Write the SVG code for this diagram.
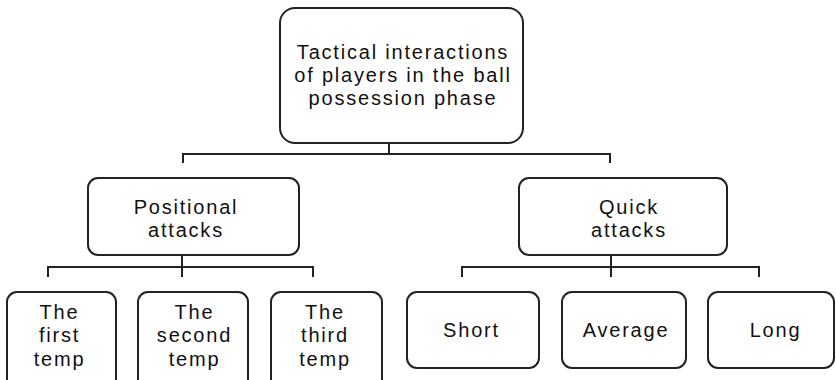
<svg xmlns="http://www.w3.org/2000/svg" width="836" height="380" viewBox="0 0 836 380">
<style>
.box{fill:#fff;stroke:#222;stroke-width:2}
.lbl{font-family:"Liberation Sans",Arial,sans-serif;font-size:20px;letter-spacing:1.8px;fill:#111;text-anchor:middle}
.con{fill:none;stroke:#222;stroke-width:2}
</style>
<rect width="836" height="380" fill="#fff"/>
<g id="connectors">
<path class="con" d="M389 143V154M182 154H611M183 153V163M610 153V163"/>
<path class="con" d="M182 255V277M47 267H314M48 266V277M313 266V277"/>
<path class="con" d="M611 255V277M461 267H760M462 266V277M759 266V277"/>
</g>
<g id="root">
<rect class="box" x="280" y="8" width="243" height="135" rx="15"/>
<text class="lbl" x="403" y="59">Tactical interactions</text>
<text class="lbl" x="403" y="82">of players in the ball</text>
<text class="lbl" x="403" y="105">possession phase</text>
</g>
<g id="positional">
<rect class="box" x="88" y="178" width="211" height="77" rx="10"/>
<text class="lbl" x="186" y="214">Positional</text>
<text class="lbl" x="186" y="237">attacks</text>
</g>
<g id="quick">
<rect class="box" x="519" y="178" width="208" height="77" rx="10"/>
<text class="lbl" x="629" y="214">Quick</text>
<text class="lbl" x="629" y="237">attacks</text>
</g>
<g id="first">
<rect class="box" x="7" y="292" width="109" height="100" rx="10"/>
<text class="lbl" x="59.5" y="319">The</text>
<text class="lbl" x="59.5" y="342">first</text>
<text class="lbl" x="59.5" y="366">temp</text>
</g>
<g id="second">
<rect class="box" x="138" y="292" width="110" height="100" rx="10"/>
<text class="lbl" x="194.5" y="319">The</text>
<text class="lbl" x="194.5" y="342">second</text>
<text class="lbl" x="194.5" y="366">temp</text>
</g>
<g id="third">
<rect class="box" x="271" y="292" width="111" height="100" rx="10"/>
<text class="lbl" x="325" y="319">The</text>
<text class="lbl" x="325" y="342">third</text>
<text class="lbl" x="325" y="366">temp</text>
</g>
<g id="short">
<rect class="box" x="407" y="292" width="132" height="76" rx="10"/>
<text class="lbl" x="471.5" y="337">Short</text>
</g>
<g id="average">
<rect class="box" x="562" y="292" width="124" height="76" rx="10"/>
<text class="lbl" x="626" y="337">Average</text>
</g>
<g id="long">
<rect class="box" x="708" y="292" width="126" height="76" rx="10"/>
<text class="lbl" x="775.5" y="337">Long</text>
</g>
</svg>
